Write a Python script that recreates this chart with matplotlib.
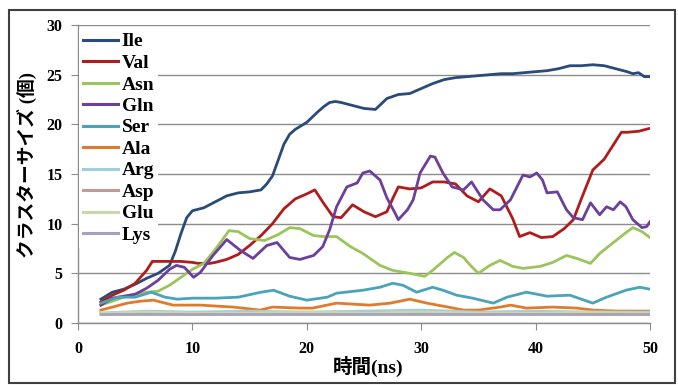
import matplotlib.pyplot as plt
from matplotlib.patches import Rectangle

# cluster size per residue type over the simulation time (ns)
ile_t = [2, 3, 4, 5, 6, 7, 8, 8.5, 9, 9.5, 10, 11, 12, 13, 14, 15, 16, 16.5, 17, 17.5, 18, 18.5, 19, 20,
         21, 21.5, 22, 22.5, 23, 24, 25, 26, 27, 28, 29, 30, 31, 32, 33, 34, 35, 36, 37, 38, 39, 40,
         41, 42, 43, 44, 45, 46, 47, 48, 48.5, 49, 49.5, 50]
ile_y = [2.4, 3.1, 3.4, 3.9, 4.5, 5.0, 5.8, 7.2, 9.0, 10.6, 11.3, 11.6, 12.2, 12.8, 13.1, 13.2, 13.4, 14.0,
         14.8, 16.4, 18.0, 19.0, 19.5, 20.2, 21.3, 21.8, 22.2, 22.3, 22.2, 21.9, 21.6, 21.5, 22.6, 23.0,
         23.1, 23.6, 24.1, 24.5, 24.7, 24.8, 24.9, 25.0, 25.1, 25.1, 25.2, 25.3, 25.4, 25.6, 25.9, 25.9,
         26.0, 25.9, 25.6, 25.3, 25.1, 25.2, 24.8, 24.8]

val_t = [2, 3, 4, 5, 6, 6.5, 7, 8, 9, 10, 10.5, 11.5, 12, 13, 14, 15, 16, 17, 18, 19, 20, 20.7, 21.5,
         22.3, 23, 24, 25, 26, 27, 27.5, 28, 29, 30, 31, 32, 33, 34, 35, 36, 37, 38, 38.6, 39.5, 40.5,
         41.5, 42.5, 43.3, 44, 45, 46, 47, 47.5, 48, 49, 50]
val_y = [2.1, 2.8, 3.3, 4.0, 5.3, 6.2, 6.2, 6.2, 6.2, 6.1, 6.0, 6.0, 6.1, 6.4, 6.9, 7.8, 8.8, 10.0, 11.5,
         12.5, 13.0, 13.4, 12.0, 10.7, 10.6, 11.9, 11.2, 10.7, 11.2, 12.5, 13.7, 13.5, 13.6, 14.2, 14.2,
         14.0, 12.8, 12.2, 13.5, 12.8, 10.5, 8.7, 9.1, 8.6, 8.7, 9.5, 10.4, 12.5, 15.4, 16.5, 18.3, 19.2,
         19.2, 19.3, 19.6]

asn_t = [2, 3, 4, 5, 6, 7, 8, 9, 10, 11, 12, 13.2, 14, 15, 16.3, 17.5, 18.5, 19.4, 20.6, 21.5, 22.6,
         23.8, 24.9, 26.4, 27.5, 29, 30.3, 31, 32.3, 32.9, 33.7, 34.3, 35, 36, 36.9, 38, 38.9, 40.4,
         41.5, 42.7, 43.6, 44.8, 45.6, 46.8, 47.9, 48.5, 49.3, 50]
asn_y = [1.8, 2.2, 2.6, 2.9, 3.1, 3.2, 3.8, 4.6, 5.4, 6.0, 7.4, 9.3, 9.2, 8.5, 8.3, 8.9, 9.6, 9.5, 8.8,
         8.7, 8.7, 7.7, 7.0, 5.8, 5.3, 5.0, 4.7, 5.3, 6.6, 7.1, 6.6, 5.8, 5.0, 5.8, 6.3, 5.7, 5.5, 5.7,
         6.1, 6.8, 6.5, 6.0, 7.0, 8.1, 9.1, 9.6, 9.2, 8.6]

gln_t = [2, 3, 4, 5, 6, 7, 8, 8.6, 9.3, 10.1, 10.7, 11.8, 13, 14.2, 15.3, 16.5, 17.4, 18.5, 19.4, 20.6,
         21.4, 22, 22.6, 23.5, 24.4, 24.9, 25.5, 26.4, 27, 27.7, 28, 28.8, 29.3, 29.9, 30.8, 31.2, 31.9,
         32.7, 33.7, 34.4, 35.4, 36.3, 36.9, 37.8, 38.9, 39.5, 40.1, 40.6, 41, 41.9, 42.7, 43.3, 44.1,
         44.8, 45.6, 46.2, 46.8, 47.4, 47.9, 48.5, 49.3, 49.7, 50]
gln_y = [1.8, 2.5, 2.7, 2.9, 3.5, 4.3, 5.4, 5.8, 5.6, 4.6, 5.1, 6.8, 8.4, 7.3, 6.5, 7.8, 8.1, 6.6, 6.4,
         6.8, 7.7, 9.4, 11.7, 13.7, 14.1, 15.1, 15.3, 14.4, 12.6, 11.1, 10.4, 11.4, 12.4, 15.1, 16.8,
         16.7, 15.1, 13.7, 13.4, 14.2, 12.4, 11.4, 11.4, 12.4, 14.9, 14.7, 15.1, 14.4, 13.1, 13.2, 11.4,
         10.6, 10.4, 12.1, 10.9, 11.7, 11.4, 12.2, 11.7, 10.4, 9.6, 9.7, 10.2]

ser_t = [2, 3.5, 5, 6.4, 7.6, 8.7, 10, 12, 14, 16, 17.1, 18.5, 20, 21.8, 22.6, 24.9, 26.4, 27.5, 28.4,
         29.6, 31, 31.9, 33.1, 34.5, 36.3, 37.5, 39.2, 41, 43, 45, 46.2, 47.9, 49.1, 50]
ser_y = [2.0, 2.6, 2.6, 3.1, 2.6, 2.4, 2.5, 2.5, 2.6, 3.1, 3.3, 2.7, 2.3, 2.6, 3.0, 3.3, 3.6, 4.0, 3.8,
         3.1, 3.6, 3.3, 2.8, 2.5, 2.0, 2.6, 3.1, 2.7, 2.8, 2.0, 2.6, 3.3, 3.6, 3.4]

ala_t = [2, 3, 4.3, 5.5, 6.6, 8.3, 10.7, 13.6, 15.9, 17, 19.4, 20.5, 22.6, 25.5, 27.3, 29, 30.5, 31.9,
         33.7, 35, 36.9, 37.8, 39.2, 41.5, 43.6, 45, 47, 50]
ala_y = [1.3, 1.6, 2.0, 2.2, 2.3, 1.8, 1.8, 1.6, 1.3, 1.6, 1.5, 1.5, 2.0, 1.8, 2.0, 2.4, 2.0, 1.7, 1.3,
         1.3, 1.6, 1.8, 1.5, 1.6, 1.5, 1.3, 1.2, 1.2]

low_t = [2, 6, 10, 15, 20, 25, 30, 35, 40, 45, 50]
arg_y = [1.0, 1.2, 1.1, 1.2, 1.1, 1.2, 1.3, 1.1, 1.2, 1.1, 1.1]
asp_y = [0.9, 1.0, 0.9, 1.0, 0.9, 1.0, 1.0, 0.9, 1.0, 0.9, 0.9]
glu_y = [1.0, 1.1, 1.0, 1.0, 1.1, 1.0, 1.1, 1.0, 1.0, 1.1, 1.0]
lys_y = [0.9, 0.9, 0.9, 0.9, 0.9, 0.9, 0.9, 0.9, 0.9, 0.9, 0.9]

names = ['Ile', 'Val', 'Asn', 'Gln', 'Ser', 'Ala', 'Arg', 'Asp', 'Glu', 'Lys']
series = [(ile_t, ile_y), (val_t, val_y), (asn_t, asn_y), (gln_t, gln_y), (ser_t, ser_y),
          (ala_t, ala_y), (low_t, arg_y), (low_t, asp_y), (low_t, glu_y), (low_t, lys_y)]
colors = ['#2a4a78', '#b01c1c', '#9bc55a', '#6b3f9a', '#4ba3b8', '#e07b2e',
          '#9fcfdb', '#c49a98', '#c9d8a6', '#a7a0c0']

fig = plt.figure(figsize=(6.78, 3.85), dpi=100)
ax = fig.add_axes([78 / 678, 1 - 323 / 385, 572 / 678, 298 / 385])

for (t, y), name, c in zip(series, names, colors):
    ax.plot(t, y, color=c, lw=2.0, label=name)

ax.set_xlim(0, 50)
ax.set_ylim(0, 30)
ax.set_xticks(range(0, 51, 10))
ax.set_yticks(range(0, 31, 5))
ax.yaxis.grid(True, color='#8c8c8c', lw=1.0)
ax.set_axisbelow(True)
for s in ['top', 'right']:
    ax.spines[s].set_visible(False)
for s in ['left', 'bottom']:
    ax.spines[s].set_color('#8c8c8c')
    ax.spines[s].set_linewidth(1.0)
ax.tick_params(axis='both', direction='out', length=5, color='#8c8c8c')
ax.tick_params(axis='x', pad=8)
ax.tick_params(axis='y', pad=6)
for lab in ax.get_xticklabels() + ax.get_yticklabels():
    lab.set_fontfamily('Liberation Serif')
    lab.set_fontweight('bold')
    lab.set_fontsize(11.5)

leg = ax.legend(loc='upper left', bbox_to_anchor=(79 / 678, 1 - 29 / 385),
                bbox_transform=fig.transFigure, frameon=True, fancybox=False,
                framealpha=1, edgecolor='none', facecolor='white',
                borderpad=0.2, borderaxespad=0, handlelength=1.8, handletextpad=0.2,
                labelspacing=0.2, prop={'family': 'Liberation Serif', 'weight': 'bold', 'size': 14})
for h in leg.get_lines():
    h.set_linewidth(2.2)

fig.text(27 / 678, 1 - 165 / 385, 'クラスターサイズ (個)', rotation=90, ha='center', va='center',
         fontsize=13.5, fontweight='bold', family=['Liberation Serif', 'Noto Sans CJK JP'])
fig.text(368 / 678, 1 - 366 / 385, '時間(ns)', ha='center', va='center',
         fontsize=14, fontweight='bold', family=['Liberation Serif', 'Noto Sans CJK JP'])

# chart area frame
fig.patches.append(Rectangle((9 / 678, 2 / 385), 666 / 678, 373 / 385, transform=fig.transFigure,
                             fill=False, edgecolor='#404040', lw=1.5))

fig.savefig('out.png', dpi=100)
